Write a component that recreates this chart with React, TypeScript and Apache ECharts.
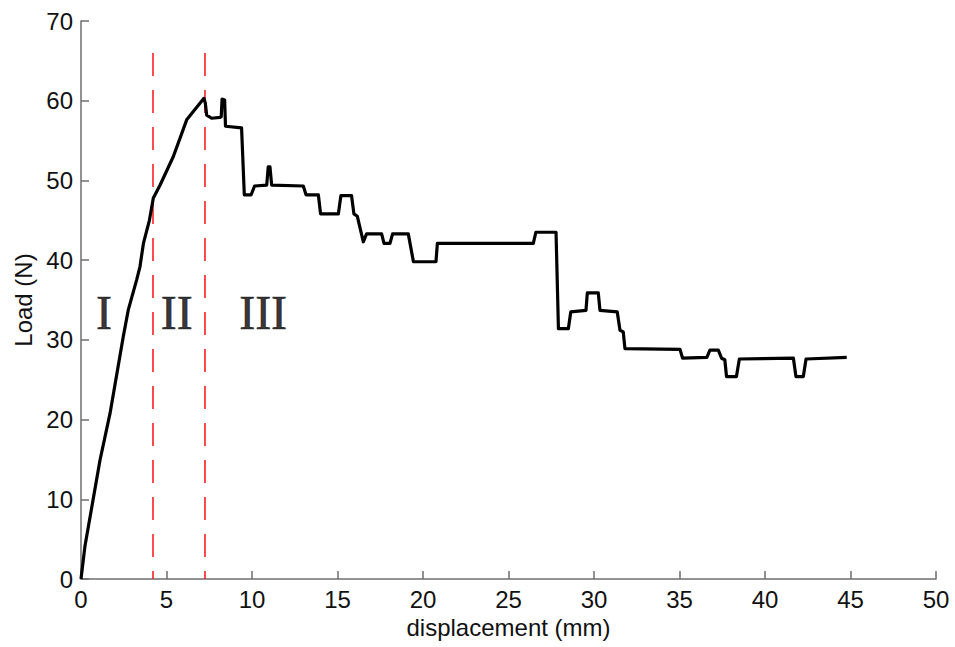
import React, { useEffect, useRef } from "react";
import * as echarts from "echarts";

const displacement = [
  0, 0.23, 1.11, 1.7, 2.47, 2.77, 3.25, 3.45, 3.65, 4.0, 4.23, 4.62, 5.4, 6.08, 6.18, 7.19,
  7.27, 7.35, 7.64, 8.13, 8.2, 8.25, 8.4, 8.45, 9.39, 9.55, 9.95, 10.15, 10.86, 10.95, 11.05,
  11.15, 13.0, 13.16, 13.88, 14.01, 15.05, 15.2, 15.82, 15.96, 16.16, 16.51, 16.7, 17.58,
  17.72, 18.07, 18.22, 19.14, 19.44, 20.76, 20.84, 26.45, 26.6, 27.78, 27.92, 28.5, 28.64,
  29.53, 29.61, 30.25, 30.35, 31.36, 31.52, 31.71, 31.81, 35.03, 35.18, 36.6, 36.78, 37.27,
  37.46, 37.65, 37.75, 38.33, 38.5, 41.66, 41.81, 42.24, 42.4, 44.78,
];
const load = [
  0, 4.1, 14.9, 20.8, 30.4, 33.8, 37.5, 39.2, 42.1, 45.0, 47.8, 49.4, 53.0, 57.0, 57.6, 60.3,
  59.7, 58.2, 57.8, 57.9, 58.0, 60.2, 60.1, 56.8, 56.6, 48.2, 48.2, 49.3, 49.4, 51.7, 51.7,
  49.4, 49.3, 48.2, 48.2, 45.8, 45.8, 48.1, 48.1, 45.8, 45.5, 42.3, 43.3, 43.3,
  42.1, 42.1, 43.3, 43.3, 39.8, 39.8, 42.1, 42.1, 43.5, 43.5, 31.4, 31.4, 33.5,
  33.7, 35.9, 35.9, 33.7, 33.5, 31.2, 31.0, 28.9, 28.8, 27.7, 27.8, 28.7, 28.7,
  27.7, 27.5, 25.4, 25.4, 27.6, 27.7, 25.4, 25.4, 27.6, 27.8,
];
const stageBounds = [4.21, 7.25];
const boundTop = 66;
const stageLabels = ["I", "II", "III"];
const stageLabelX = [1.35, 5.6, 10.65];
const stageLabelY = 33.4;
const xTicks = { min: 0, max: 50, interval: 5 };
const yTicks = { min: 0, max: 70, interval: 10 };

export default function App() {
  const ref = useRef<HTMLDivElement>(null);
  useEffect(() => {
    if (!ref.current) return;
    const chart = echarts.init(ref.current, undefined, { renderer: "svg" });
    const axisText = { color: "#111", fontSize: 24, fontFamily: "Liberation Sans, Arial, sans-serif" };
    const axisLineStyle = { color: "#6e6e6e", width: 1.5 };
    chart.setOption({
      animation: false,
      grid: { left: 81, right: 19, top: 21, bottom: 68 },
      xAxis: {
        type: "value",
        min: xTicks.min,
        max: xTicks.max,
        interval: xTicks.interval,
        name: "displacement (mm)",
        nameLocation: "middle",
        nameGap: 36,
        nameTextStyle: { ...axisText },
        axisLine: { show: true, lineStyle: axisLineStyle },
        axisTick: { show: true, inside: true, length: 8, lineStyle: axisLineStyle },
        axisLabel: { ...axisText, margin: 8 },
        splitLine: { show: false },
      },
      yAxis: {
        type: "value",
        min: yTicks.min,
        max: yTicks.max,
        interval: yTicks.interval,
        name: "Load (N)",
        nameLocation: "middle",
        nameGap: 44,
        nameRotate: 90,
        nameTextStyle: { ...axisText },
        axisLine: { show: true, lineStyle: axisLineStyle },
        axisTick: { show: true, inside: true, length: 8, lineStyle: axisLineStyle },
        axisLabel: { ...axisText, margin: 8 },
        splitLine: { show: false },
      },
      series: [
        ...stageBounds.map((b) => ({
          type: "line",
          data: [
            [b, boundTop],
            [b, 0],
          ],
          symbol: "none",
          lineStyle: { color: "#ff2020", width: 1.6, type: [23, 14] },
          z: 1,
        })),
        {
          type: "line",
          data: displacement.map((d, i) => [d, load[i]]),
          symbol: "none",
          lineStyle: { color: "#000", width: 3.2, join: "round" },
          z: 3,
        },
        {
          type: "scatter",
          data: stageLabels.map((s, i) => ({ value: [stageLabelX[i], stageLabelY], name: s })),
          symbolSize: 0,
          label: {
            show: true,
            position: "inside",
            formatter: (p: any) => p.name,
            color: "#000",
            fontSize: 48,
            fontFamily: "Liberation Serif, Times New Roman, serif",
            textBorderColor: "#000",
            textBorderWidth: 0.6,
          },
          z: 4,
        },
      ],
    });
    return () => chart.dispose();
  }, []);
  return (
    <div
      ref={ref}
      style={{ position: "absolute", left: 0, top: 0, width: 955, height: 647, background: "#fff" }}
    />
  );
}
